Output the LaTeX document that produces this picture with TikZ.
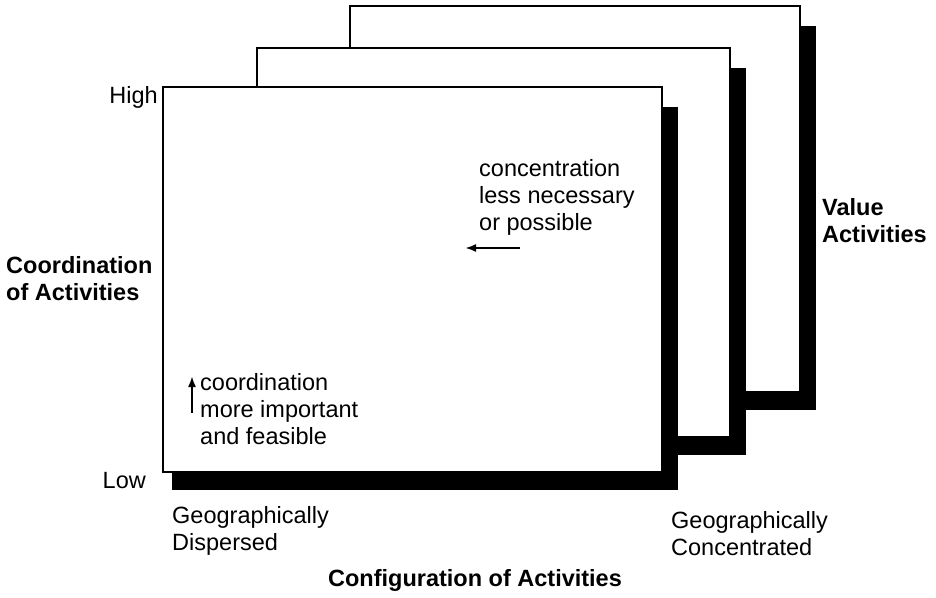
\documentclass[tikz,border=0pt]{standalone}
\usepackage{fontspec}
\setmainfont{Liberation Sans}
\usetikzlibrary{arrows.meta}

% one value-activity panel: black drop shadow, then the white card on top
\newcommand\valuepanel[5]{%
  \fill[black] (#1+9,#2+20) rectangle (#3+16,#4+18);
  \draw[panelline] (#1,#2) rectangle (#3,#4);
  \coordinate (#5) at (#1,#2);
}

\tikzset{
  panelline/.style={line width=2.6pt, fill=white},
  lbl/.style={font=\fontsize{23.5}{27}\selectfont, inner sep=0pt, align=left},
  bold/.style={lbl, font=\fontsize{23.5}{27}\selectfont\bfseries},
  note/.style={line width=2pt, -{Latex[length=11pt,width=8pt]}}
}

\begin{document}
\begin{tikzpicture}[x=1pt, y=-1pt]
  \useasboundingbox (0,0) rectangle (936,597);

  % stacked panels, back to front
  \valuepanel{350}{6}{800}{392}{back}
  \valuepanel{257}{48}{730}{437}{middle}
  \valuepanel{163}{87}{662}{472}{front}

  % vertical axis
  \node[lbl, anchor=east] (high) at (158,97) {High};
  \node[lbl, anchor=east] (low) at (146,481) {Low};
  \node[bold, anchor=west] (coordaxis) at (6,279) {Coordination\\of Activities};

  % horizontal axis
  \node[lbl, anchor=west] (dispersed) at (172,531) {Geographically\\Dispersed};
  \node[lbl, anchor=west] (concentrated) at (671,534) {Geographically\\Concentrated};
  \node[bold] (configaxis) at (475,580) {Configuration of Activities};

  % depth axis
  \node[bold, anchor=west] (value) at (822,221) {Value\\Activities};

  % annotations inside the front panel
  \node[lbl, anchor=west] (concnote) at (479,197) {concentration\\less necessary\\or possible};
  \node[lbl, anchor=west] (coordnote) at (200,409) {coordination\\more important\\and feasible};

  \coordinate (la) at (520,248);
  \coordinate (lb) at (465,248);
  \draw[note] (la) -- (lb);
  \coordinate (ua) at (192,413);
  \coordinate (ub) at (192,376);
  \draw[note] (ua) -- (ub);
\end{tikzpicture}
\end{document}
